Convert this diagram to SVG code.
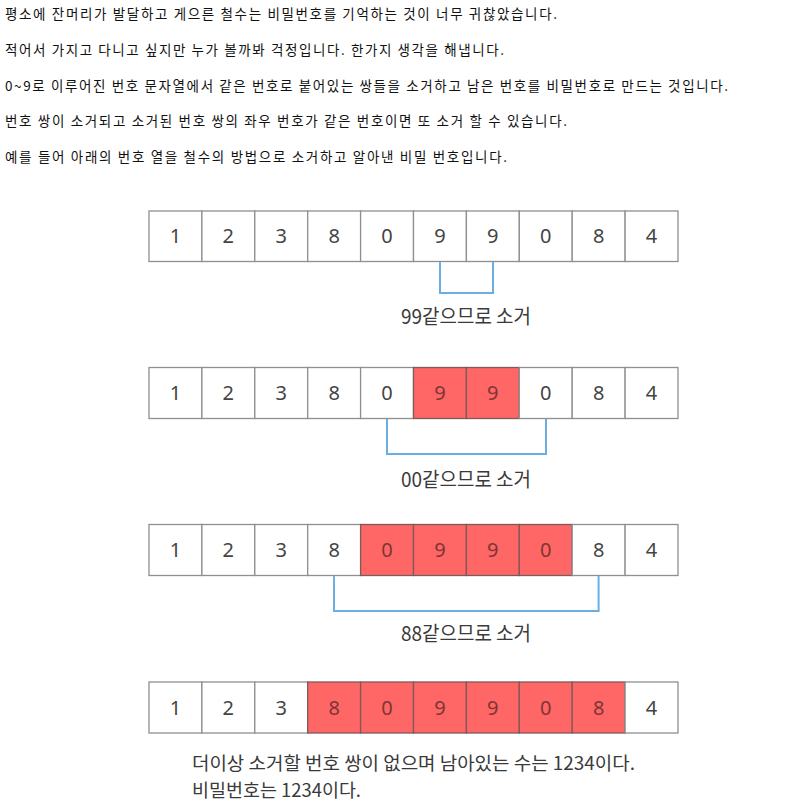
<svg xmlns="http://www.w3.org/2000/svg" width="810" height="808" viewBox="0 0 810 808">
<style>
.para{font-family:"Noto Sans CJK KR","Noto Sans",sans-serif;font-size:13.5px;fill:#111}
.cell{fill:#fff;stroke:#8f8f8f;stroke-width:1.3}
.red{fill:#ff6666;stroke:#7f5a5a;stroke-width:1.3}
.d{font-family:"Noto Sans","Open Sans",sans-serif;font-size:20px;fill:#444;text-anchor:middle}
.dr{fill:#7d3535}
.lbl{font-family:"Noto Sans CJK KR","Noto Sans",sans-serif;font-size:20px;fill:#3a3a3a}
.sm{font-size:18px}
.br{fill:none;stroke:#6aaee4;stroke-width:2}
</style>
<rect width="810" height="808" fill="#fff"/>
<g id="intro">
<text class="para" x="5" y="19" textLength="552" lengthAdjust="spacing">평소에 잔머리가 발달하고 게으른 철수는 비밀번호를 기억하는 것이 너무 귀찮았습니다.</text>
<text class="para" x="5" y="55" textLength="499" lengthAdjust="spacing">적어서 가지고 다니고 싶지만 누가 볼까봐 걱정입니다. 한가지 생각을 해냅니다.</text>
<text class="para" x="5" y="91" textLength="723" lengthAdjust="spacing">0~9로 이루어진 번호 문자열에서 같은 번호로 붙어있는 쌍들을 소거하고 남은 번호를 비밀번호로 만드는 것입니다.</text>
<text class="para" x="5" y="126" textLength="562" lengthAdjust="spacing">번호 쌍이 소거되고 소거된 번호 쌍의 좌우 번호가 같은 번호이면 또 소거 할 수 있습니다.</text>
<text class="para" x="5" y="162" textLength="502" lengthAdjust="spacing">예를 들어 아래의 번호 열을 철수의 방법으로 소거하고 알아낸 비밀 번호입니다.</text>
</g>
<g id="row1">
<rect class="cell" x="149" y="211" width="52.9" height="50.5"/><text class="d" x="175.45" y="243">1</text>
<rect class="cell" x="201.9" y="211" width="52.9" height="50.5"/><text class="d" x="228.35" y="243">2</text>
<rect class="cell" x="254.8" y="211" width="52.9" height="50.5"/><text class="d" x="281.25" y="243">3</text>
<rect class="cell" x="307.7" y="211" width="52.9" height="50.5"/><text class="d" x="334.15" y="243">8</text>
<rect class="cell" x="360.6" y="211" width="52.9" height="50.5"/><text class="d" x="387.05" y="243">0</text>
<rect class="cell" x="413.5" y="211" width="52.9" height="50.5"/><text class="d" x="439.95" y="243">9</text>
<rect class="cell" x="466.4" y="211" width="52.9" height="50.5"/><text class="d" x="492.85" y="243">9</text>
<rect class="cell" x="519.3" y="211" width="52.9" height="50.5"/><text class="d" x="545.75" y="243">0</text>
<rect class="cell" x="572.2" y="211" width="52.9" height="50.5"/><text class="d" x="598.65" y="243">8</text>
<rect class="cell" x="625.1" y="211" width="52.9" height="50.5"/><text class="d" x="651.55" y="243">4</text>
</g>
<g id="row2">
<rect class="cell" x="149" y="367.5" width="52.9" height="51"/><text class="d" x="175.45" y="400">1</text>
<rect class="cell" x="201.9" y="367.5" width="52.9" height="51"/><text class="d" x="228.35" y="400">2</text>
<rect class="cell" x="254.8" y="367.5" width="52.9" height="51"/><text class="d" x="281.25" y="400">3</text>
<rect class="cell" x="307.7" y="367.5" width="52.9" height="51"/><text class="d" x="334.15" y="400">8</text>
<rect class="cell" x="360.6" y="367.5" width="52.9" height="51"/><text class="d" x="387.05" y="400">0</text>
<rect class="red" x="413.5" y="367.5" width="52.9" height="51"/><text class="d dr" x="439.95" y="400">9</text>
<rect class="red" x="466.4" y="367.5" width="52.9" height="51"/><text class="d dr" x="492.85" y="400">9</text>
<rect class="cell" x="519.3" y="367.5" width="52.9" height="51"/><text class="d" x="545.75" y="400">0</text>
<rect class="cell" x="572.2" y="367.5" width="52.9" height="51"/><text class="d" x="598.65" y="400">8</text>
<rect class="cell" x="625.1" y="367.5" width="52.9" height="51"/><text class="d" x="651.55" y="400">4</text>
</g>
<g id="row3">
<rect class="cell" x="149" y="524.5" width="52.9" height="51"/><text class="d" x="175.45" y="557">1</text>
<rect class="cell" x="201.9" y="524.5" width="52.9" height="51"/><text class="d" x="228.35" y="557">2</text>
<rect class="cell" x="254.8" y="524.5" width="52.9" height="51"/><text class="d" x="281.25" y="557">3</text>
<rect class="cell" x="307.7" y="524.5" width="52.9" height="51"/><text class="d" x="334.15" y="557">8</text>
<rect class="red" x="360.6" y="524.5" width="52.9" height="51"/><text class="d dr" x="387.05" y="557">0</text>
<rect class="red" x="413.5" y="524.5" width="52.9" height="51"/><text class="d dr" x="439.95" y="557">9</text>
<rect class="red" x="466.4" y="524.5" width="52.9" height="51"/><text class="d dr" x="492.85" y="557">9</text>
<rect class="red" x="519.3" y="524.5" width="52.9" height="51"/><text class="d dr" x="545.75" y="557">0</text>
<rect class="cell" x="572.2" y="524.5" width="52.9" height="51"/><text class="d" x="598.65" y="557">8</text>
<rect class="cell" x="625.1" y="524.5" width="52.9" height="51"/><text class="d" x="651.55" y="557">4</text>
</g>
<g id="row4">
<rect class="cell" x="149" y="682" width="52.9" height="51"/><text class="d" x="175.45" y="714.5">1</text>
<rect class="cell" x="201.9" y="682" width="52.9" height="51"/><text class="d" x="228.35" y="714.5">2</text>
<rect class="cell" x="254.8" y="682" width="52.9" height="51"/><text class="d" x="281.25" y="714.5">3</text>
<rect class="red" x="307.7" y="682" width="52.9" height="51"/><text class="d dr" x="334.15" y="714.5">8</text>
<rect class="red" x="360.6" y="682" width="52.9" height="51"/><text class="d dr" x="387.05" y="714.5">0</text>
<rect class="red" x="413.5" y="682" width="52.9" height="51"/><text class="d dr" x="439.95" y="714.5">9</text>
<rect class="red" x="466.4" y="682" width="52.9" height="51"/><text class="d dr" x="492.85" y="714.5">9</text>
<rect class="red" x="519.3" y="682" width="52.9" height="51"/><text class="d dr" x="545.75" y="714.5">0</text>
<rect class="red" x="572.2" y="682" width="52.9" height="51"/><text class="d dr" x="598.65" y="714.5">8</text>
<rect class="cell" x="625.1" y="682" width="52.9" height="51"/><text class="d" x="651.55" y="714.5">4</text>
</g>
<g id="connectors">
<path class="br" d="M440 262 V293 H493 V262"/>
<path class="br" d="M387 419 V454 H546 V419"/>
<path class="br" d="M334 576 V611 H598.6 V576"/>
</g>
<g id="labels">
<text class="lbl" x="401" y="324" textLength="130" lengthAdjust="spacingAndGlyphs">99같으므로 소거</text>
<text class="lbl" x="401" y="487" textLength="130" lengthAdjust="spacingAndGlyphs">00같으므로 소거</text>
<text class="lbl" x="401" y="641" textLength="130" lengthAdjust="spacingAndGlyphs">88같으므로 소거</text>
<text class="lbl sm" x="192" y="770" textLength="443" lengthAdjust="spacingAndGlyphs">더이상 소거할 번호 쌍이 없으며 남아있는 수는 1234이다.</text>
<text class="lbl sm" x="192" y="797" textLength="169" lengthAdjust="spacingAndGlyphs">비밀번호는 1234이다.</text>
</g>
</svg>
